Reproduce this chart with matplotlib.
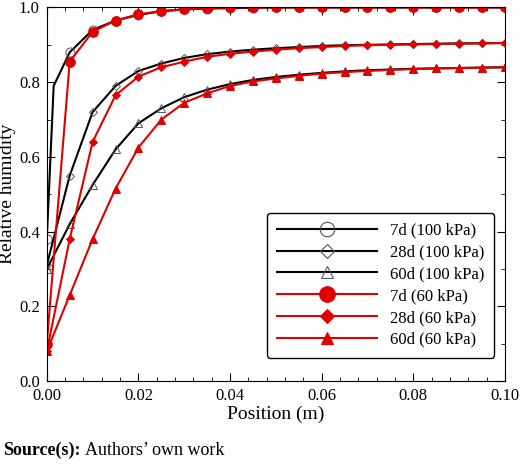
import numpy as np
import matplotlib.pyplot as plt
from matplotlib.ticker import MultipleLocator

plt.rcParams['font.family'] = 'Liberation Serif'

pos = np.arange(21) * 0.005
rh_7d_100 = [0.38, 0.88, 0.94, 0.965, 0.98, 0.99, 0.995, 0.997, 0.998, 0.999, 1.0, 1.0, 1.0, 1.0, 1.0, 1.0, 1.0, 1.0, 1.0, 1.0, 1.0]
rh_28d_100 = [0.31, 0.55, 0.72, 0.79, 0.83, 0.85, 0.865, 0.875, 0.882, 0.887, 0.891, 0.894, 0.897, 0.899, 0.9, 0.901, 0.902, 0.903, 0.904, 0.904, 0.905]
rh_60d_100 = [0.30, 0.42, 0.525, 0.62, 0.69, 0.73, 0.76, 0.78, 0.795, 0.806, 0.814, 0.82, 0.825, 0.829, 0.832, 0.834, 0.836, 0.837, 0.838, 0.839, 0.84]
rh_7d_60 = [0.10, 0.855, 0.935, 0.965, 0.982, 0.99, 0.995, 0.998, 1.0, 1.0, 1.0, 1.0, 1.0, 1.0, 1.0, 1.0, 1.0, 1.0, 1.0, 1.0, 1.0]
rh_28d_60 = [0.08, 0.38, 0.64, 0.765, 0.815, 0.84, 0.855, 0.868, 0.876, 0.882, 0.887, 0.891, 0.894, 0.897, 0.899, 0.9, 0.901, 0.902, 0.903, 0.904, 0.905]
rh_60d_60 = [0.08, 0.23, 0.38, 0.515, 0.625, 0.70, 0.745, 0.77, 0.79, 0.802, 0.81, 0.817, 0.823, 0.827, 0.83, 0.833, 0.835, 0.837, 0.838, 0.839, 0.84]
# extra line vertex for the steep 7d (100 kPa) rise
x_7d_line = [0.0, 0.0015] + list(pos[1:])
y_7d_line = [0.38, 0.79] + rh_7d_100[1:]

fig = plt.figure(figsize=(5.2, 4.67), dpi=100)
ax = fig.add_axes([0.09, 0.184, 0.881, 0.8])

series = [
    (rh_7d_100, 'k', 'o', 'none', 6.5, '7d (100 kPa)'),
    (rh_28d_100, 'k', 'D', 'none', 4.5, '28d (100 kPa)'),
    (rh_60d_100, 'k', '^', 'none', 5.5, '60d (100 kPa)'),
    (rh_7d_60, '#e00000', 'o', '#e00000', 7, '7d (60 kPa)'),
    (rh_28d_60, '#e00000', 'D', '#e00000', 4.5, '28d (60 kPa)'),
    (rh_60d_60, '#e00000', '^', '#e00000', 5.5, '60d (60 kPa)'),
]
for i, (y, c, m, fc, ms, lab) in enumerate(series):
    if i == 0:
        ax.plot(x_7d_line, y_7d_line, color=c, lw=1.5)
    else:
        ax.plot(pos, y, color=c, lw=1.5)
    mec = '#555555' if fc == 'none' else c
    ax.plot(pos, y, ls='none', marker=m, ms=ms, mfc=fc, mec=mec, mew=0.7)
    ax.plot([], [], color=c, lw=1.5, marker=m, ms=ms * 1.6, mfc=fc, mec=mec, mew=0.8, label=lab)

ax.set_xlim(0, 0.1)
ax.set_ylim(0, 1.0)
ax.xaxis.set_major_locator(MultipleLocator(0.02))
ax.xaxis.set_minor_locator(MultipleLocator(0.004))
ax.yaxis.set_major_locator(MultipleLocator(0.2))
ax.yaxis.set_minor_locator(MultipleLocator(0.1))
ax.xaxis.set_major_formatter(plt.FormatStrFormatter('%.2f'))
ax.yaxis.set_major_formatter(plt.FormatStrFormatter('%.1f'))
ax.tick_params(which='both', direction='in', top=True, right=True, labelsize=12, pad=5)
ax.tick_params(which='major', length=6)
ax.tick_params(which='minor', length=3)
ax.set_xlabel('Position (m)', fontsize=14, labelpad=1)
ax.set_ylabel('Relative humidity', fontsize=14, labelpad=2)

leg = ax.legend(loc='lower right', bbox_to_anchor=(0.995, 0.04), fontsize=12, handlelength=6,
                frameon=True, fancybox=True, edgecolor='k', framealpha=1, labelspacing=0.35,
                borderpad=0.6)
leg.get_frame().set_linewidth(1.0)

fig.text(0.005, 0.025, 'Source(s):', fontsize=13, fontweight='bold')
fig.text(0.163, 0.025, 'Authors’ own work', fontsize=13)
fig.savefig('out.png', dpi=100)
